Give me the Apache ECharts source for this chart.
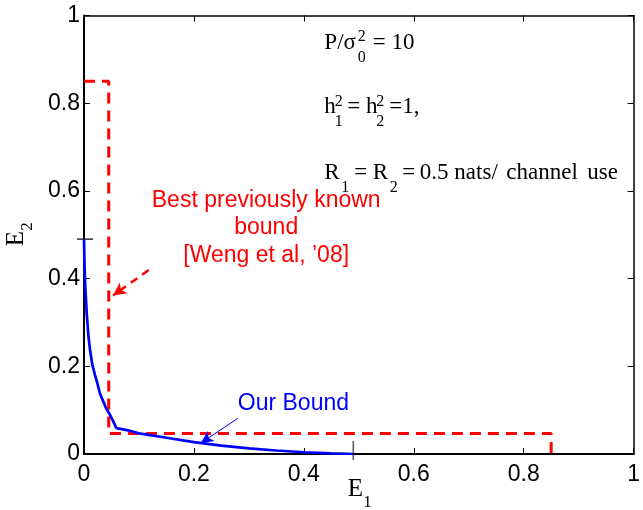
<!DOCTYPE html>
<html>
<head>
<meta charset="utf-8">
<script src="https://cdn.jsdelivr.net/npm/echarts@6/dist/echarts.min.js"></script>
<style>html,body{margin:0;padding:0;background:#fff}#c{width:643px;height:510px}</style>
</head>
<body>
<div id="c"></div>
<script>
// ---- data ----
const ourE1 = [0, 0.001, 0.002, 0.005, 0.008, 0.011, 0.015, 0.02, 0.025, 0.029, 0.035, 0.04, 0.047, 0.053, 0.059, 0.08, 0.1, 0.15, 0.2, 0.25, 0.3, 0.35, 0.4, 0.45, 0.49];
const ourE2 = [0.49, 0.43, 0.39, 0.32, 0.27, 0.237, 0.205, 0.18, 0.158, 0.138, 0.12, 0.105, 0.09, 0.075, 0.059, 0.054, 0.047, 0.037, 0.027, 0.019, 0.013, 0.008, 0.004, 0.0015, 0];
const prevE1 = [0, 0.045, 0.045, 0.85, 0.85];
const prevE2 = [0.85, 0.85, 0.047, 0.047, 0];
const axisMin = 0, axisMax = 1, axisStep = 0.2;
const extraTick = 0.49;
const redArrow = [[0.1177, 0.4196], [0.0528, 0.3615]];
const blueArrow = [[0.280, 0.0814], [0.212, 0.0244]];
const redText = ['Best previously known', 'bound', '[Weng et al, \u201908]'];
const blueText = 'Our Bound';

const SANS = '"Liberation Sans", Arial, sans-serif';
const SERIF = '"Liberation Serif", "Times New Roman", serif';

const zip = (a, b) => a.map((v, i) => [v, b[i]]);

const chart = echarts.init(document.getElementById('c'), null, {renderer: 'canvas'});

const baseX = {
  type: 'value', min: axisMin, max: axisMax, interval: axisStep,
  splitLine: {show: false},
  axisTick: {inside: true, length: 6, lineStyle: {color: '#000', width: 1}},
};

chart.setOption({
  animation: false,
  backgroundColor: '#fff',
  grid: {left: 84, right: 4, top: 15.5, bottom: 56, containLabel: false},
  xAxis: [
    Object.assign({}, baseX, {
      position: 'bottom',
      axisLine: {onZero: false, lineStyle: {color: '#000', width: 2}},
      axisLabel: {color: '#000', fontSize: 23, fontFamily: SANS, margin: 9}
    }),
    Object.assign({}, baseX, {
      position: 'top',
      axisLine: {onZero: false, lineStyle: {color: '#000', width: 1.5}},
      axisLabel: {show: false}
    })
  ],
  yAxis: [
    Object.assign({}, baseX, {
      position: 'left',
      axisLine: {onZero: false, lineStyle: {color: '#000', width: 2}},
      axisLabel: {color: '#000', fontSize: 23, fontFamily: SANS, margin: 4}
    }),
    Object.assign({}, baseX, {
      position: 'right',
      axisLine: {onZero: false, lineStyle: {color: '#000', width: 1.5}},
      axisLabel: {show: false}
    })
  ],
  series: [
    {
      type: 'line', xAxisIndex: 0, yAxisIndex: 0,
      data: zip(prevE1, prevE2),
      showSymbol: false, symbol: 'none', silent: true,
      lineStyle: {color: '#ff0000', width: 3, type: [11, 7]},
      markLine: {
        silent: true, animation: false,
        symbol: ['none', 'arrow'], symbolSize: [10, 13],
        label: {show: false},
        lineStyle: {color: '#ff0000', width: 2.5, type: [8, 6]},
        data: [[{coord: redArrow[0]}, {coord: redArrow[1]}]]
      }
    },
    {
      type: 'line', xAxisIndex: 0, yAxisIndex: 0,
      data: zip(ourE1, ourE2),
      showSymbol: false, symbol: 'none', silent: true,
      lineStyle: {color: '#0000ff', width: 2.7},
      markLine: {
        silent: true, animation: false,
        symbol: ['none', 'arrow'], symbolSize: [9, 13],
        label: {show: false},
        lineStyle: {color: '#0000ff', width: 1, type: 'solid'},
        data: [[{coord: blueArrow[0]}, {coord: blueArrow[1]}]]
      }
    }
  ]
});

// ---- annotations ----
const px = (x, y) => chart.convertToPixel({gridIndex: 0}, [x, y]);
function txt(x, yBase, s, size, fam, color, align) {
  return {
    type: 'text', x: x, y: yBase - 0.34 * size, silent: true,
    style: {text: s, fill: color || '#000', fontSize: size, fontFamily: fam,
            align: align || 'left', verticalAlign: 'middle'}
  };
}

const g = [];
// serif parameter block
const A = px(0.4373, 0.919);
const ax = A[0], ay = A[1];
const S = 23, s = 16;
g.push(txt(ax, ay, 'P/\u03c3', S, SERIF));
g.push(txt(ax + 33.5, ay - 9, '2', s, SERIF));
g.push(txt(ax + 33.5, ay + 12, '0', s, SERIF));
g.push(txt(ax + 48.5, ay, '= 10', S, SERIF));
const l2 = ay + 63.5;
g.push(txt(ax, l2, 'h', S, SERIF));
g.push(txt(ax + 10.5, l2 - 7.5, '2', s, SERIF));
g.push(txt(ax + 10.5, l2 + 12.5, '1', s, SERIF));
g.push(txt(ax + 23, l2, '=', S, SERIF));
g.push(txt(ax + 41.6, l2, 'h', S, SERIF));
g.push(txt(ax + 52, l2 - 7.5, '2', s, SERIF));
g.push(txt(ax + 52, l2 + 12.5, '2', s, SERIF));
g.push(txt(ax + 65, l2, '=1,', S, SERIF));
const l3 = ay + 130;
g.push(txt(ax, l3, 'R', S, SERIF));
g.push(txt(ax + 17, l3 + 12, '1', s, SERIF));
g.push(txt(ax + 30, l3, '=', S, SERIF));
g.push(txt(ax + 48.3, l3, 'R', S, SERIF));
g.push(txt(ax + 65.5, l3 + 12, '2', s, SERIF));
g.push(txt(ax + 78, l3, '=', S, SERIF));
g.push(txt(ax + 95.5, l3, '0.5', S, SERIF));
g.push(txt(ax + 130, l3, 'nats/', S, SERIF));
g.push(txt(ax + 182, l3, 'channel', S, SERIF));
g.push(txt(ax + 263, l3, 'use', S, SERIF));

// red annotation
const R = px(0.3315, 0.5603);
redText.forEach((t, i) => g.push(txt(R[0], R[1] + i * 27.5, t, 23, SANS, '#ff0000', 'center')));

// blue annotation
const B = px(0.2798, 0.0965);
g.push(txt(B[0], B[1], blueText, 23, SANS, '#0000ff', 'left'));

// extra ticks at 0.49 on both axes
const ty = px(0, extraTick);
g.push({type: 'line', silent: true, shape: {x1: ty[0] - 7, y1: ty[1], x2: ty[0] + 9, y2: ty[1]}, style: {stroke: '#333', lineWidth: 1.5}});
const tx = px(extraTick, 0);
g.push({type: 'line', silent: true, shape: {x1: tx[0], y1: tx[1] - 13, x2: tx[0], y2: tx[1] + 6}, style: {stroke: '#555', lineWidth: 1.5}});

// axis names
const bl = px(0, 0), tr = px(1, 1);
const cx = (bl[0] + tr[0]) / 2;
const nb = bl[1] + 44;
g.push(txt(cx - 11, nb, 'E', 25, SERIF));
g.push(txt(cx + 4.5, nb + 10.5, '1', 17, SERIF));
const cy = (bl[1] + tr[1]) / 2;
g.push({
  type: 'group', x: 25, y: cy + 11.5, rotation: Math.PI / 2, silent: true,
  children: [txt(0, 0, 'E', 25, SERIF), txt(15.5, 8, '2', 17, SERIF)]
});

chart.setOption({graphic: g});
</script>
</body>
</html>
